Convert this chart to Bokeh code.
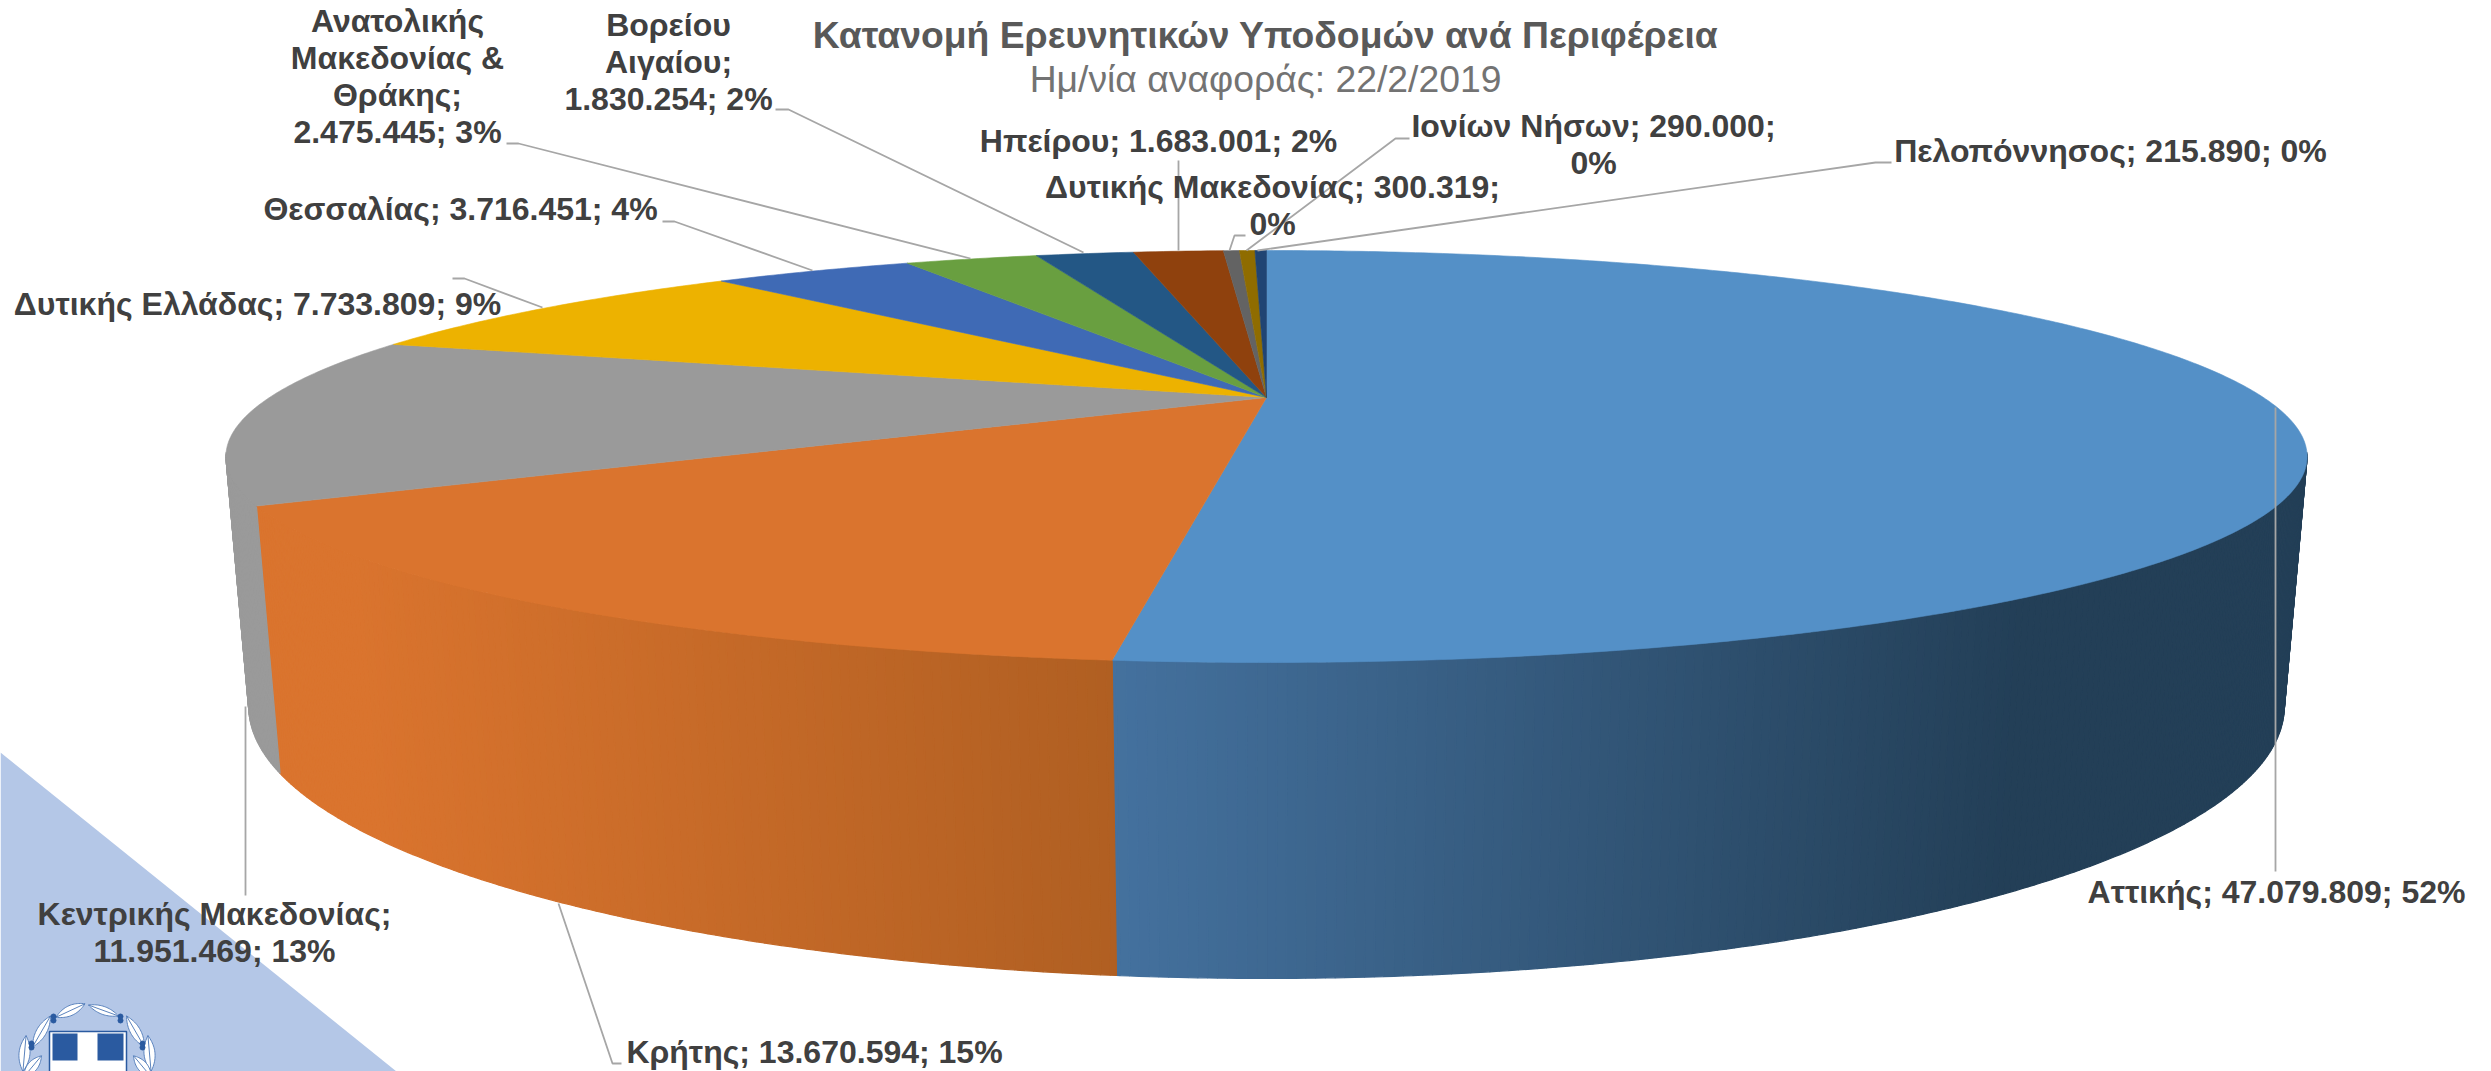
import numpy as np
from bokeh.plotting import figure
from bokeh.models import Range1d, ColumnDataSource
from bokeh.core.properties import value
from bokeh.embed import file_html
from bokeh.resources import INLINE

# ---------- data ----------
categories = ["Αττικής", "Κρήτης", "Κεντρικής Μακεδονίας", "Δυτικής Ελλάδας", "Θεσσαλίας",
              "Ανατολικής Μακεδονίας & Θράκης", "Βορείου Αιγαίου", "Ηπείρου",
              "Δυτικής Μακεδονίας", "Ιονίων Νήσων", "Πελοπόννησος"]
values = [47079809, 13670594, 11951469, 7733809, 3716451, 2475445, 1830254, 1683001, 300319, 290000, 215890]
title_text = "Κατανομή Ερευνητικών Υποδομών ανά Περιφέρεια"
subtitle_text = "Ημ/νία αναφοράς: 22/2/2019"

# ---------- styles / layout ----------
colors = ["#5490c7", "#da742e", "#9a9a9a", "#edb200", "#3f6ab5", "#699f40",
          "#235785", "#8f410d", "#636363", "#8f6c00", "#204473"]
wraps = [None, None, [2, 2], None, None, [1, 2, 1, 2], [1, 1, 2], None, [3, 1], [3, 1], None]
label_cx = [2276, 814, 214, 257, 460, 397, 668, 1158, 1272, 1593, 2110]
label_base = [891, 1051, 913, 303, 208, 20, 24, 140, 186, 125, 150]
LINE_H = 37.2
leaders = [
    [(2275, 407), (2275, 871)],
    [(558, 903), (612, 1063), (621, 1063)],
    [(245, 706), (245, 895)],
    [(542, 307), (464, 278), (452, 278)],
    [(812, 270), (674, 221), (662, 221)],
    [(970, 258), (518, 143), (506, 143)],
    [(1083, 252), (788, 109), (775, 109)],
    [(1178, 250), (1178, 160)],
    [(1229, 250), (1234, 235), (1245, 235)],
    [(1246, 250), (1395, 138), (1409, 138)],
    [(1257, 250), (1875, 162), (1891, 162)],
]

# projection of the pie's disc on to the page (perspective)
CX, R, K = 1266.0, 997.0, 0.2864
A, B_TOP, B_BOT, D_BOT = 75.4, 397.0, 642.6, 1.0206


def project(theta, bottom=False):
    """theta: degrees clockwise from 12 o'clock; r=1 rim."""
    t = np.radians(theta)
    u, v = np.sin(t), -np.cos(t)
    d = (D_BOT if bottom else 1.0) - K * v
    return CX + R * u / d, (A * v + (B_BOT if bottom else B_TOP)) / d


def mix(c0, c1, f):
    f = float(np.clip(f, 0, 1))
    a = [int(c0[i:i + 2], 16) for i in (1, 3, 5)]
    b = [int(c1[i:i + 2], 16) for i in (1, 3, 5)]
    return "#%02x%02x%02x" % tuple(round(x + (y - x) * f) for x, y in zip(a, b))


total = sum(values)
edges = 360.0 * np.concatenate([[0], np.cumsum(values)]) / total

p = figure(width=2491, height=1071, output_backend="svg", toolbar_location=None,
           x_range=Range1d(0, 2491), y_range=Range1d(1071, 0),
           x_axis_type=None, y_axis_type=None, min_border=0,
           margin=(0, 0, 0, 0))
p.outline_line_color = None
p.grid.visible = False
p.background_fill_color = "white"
p.border_fill_color = "white"

# ---------- corner decoration ----------
p.patch([0, 396, 0], [752, 1071, 1071], fill_color="#b4c7e7", line_color=None)
EMB = "#2a5aa0"
p.patch([49, 126, 126, 49], [1031, 1031, 1075, 1075], fill_color="white", line_color=EMB, line_width=1.5)
p.patch([52, 77, 77, 52], [1033, 1033, 1060, 1060], fill_color=EMB, line_color=None)
p.patch([97, 123, 123, 97], [1033, 1033, 1060, 1060], fill_color=EMB, line_color=None)
leaves = [(70, 1010, 32, 10, -25), (103, 1010, 32, 8, 20), (41, 1031, 36, 10, -60), (135, 1031, 36, 10, 60),
          (24, 1053, 36, 11, -85), (149, 1053, 36, 11, 85), (32, 1066, 28, 10, -50), (142, 1066, 28, 10, 50)]
for cx, cy, ln, wd, ang in leaves:
    s = np.linspace(-1, 1, 24)
    lx = np.concatenate([s, s[::-1]]) * ln / 2
    ly = np.concatenate([(1 - s ** 2), -(1 - s[::-1] ** 2)]) * wd / 2
    a = np.radians(ang)
    p.patch(cx + lx * np.cos(a) - ly * np.sin(a), cy + lx * np.sin(a) + ly * np.cos(a),
            fill_color="white", line_color="#5b83bd", line_width=1)
    p.line([cx - ln / 2 * np.cos(a), cx + ln / 2 * np.cos(a)],
           [cy - ln / 2 * np.sin(a), cy + ln / 2 * np.sin(a)], line_color="#5b83bd", line_width=1)
p.scatter([53, 53, 31, 31, 120, 120, 142, 142], [1016, 1020, 1043, 1047, 1016, 1020, 1043, 1047],
          size=5, color=EMB)

# ---------- side wall ----------
SIDE_FROM, SIDE_TO = 105.5, 254.5
STEPS = 360
th = np.linspace(SIDE_FROM, SIDE_TO, STEPS + 1)
# strips must break exactly on the slice boundaries
th = np.unique(np.concatenate([th, edges[(edges > SIDE_FROM) & (edges < SIDE_TO)]]))
xs, ys, cols = [], [], []
for t0, t1 in zip(th[:-1], th[1:]):
    mid = (t0 + t1) / 2
    i = int(np.searchsorted(edges, mid)) - 1
    x0t, y0t = project(t0)
    x1t, y1t = project(t1)
    x0b, y0b = project(t0, True)
    x1b, y1b = project(t1, True)
    xm = (x0b + x1b) / 2
    if i == 0:
        col = mix("#44719e", "#233f57", (1116 - xm) / (1116 - 2000))
    elif i == 1:
        col = mix("#da742e", "#b05f22", (xm - 370) / (1115 - 370))
    else:
        col = colors[i]
    xs.append([x0t, x1t, x1b, x0b])
    ys.append([y0t, y1t, y1b, y0b])
    cols.append(col)
p.patches("x", "y", fill_color="c", line_color="c", line_width=1.2,
          source=ColumnDataSource(dict(x=xs, y=ys, c=cols)))

# ---------- top face ----------
xs, ys = [], []
for t0, t1 in zip(edges[:-1], edges[1:]):
    t = np.linspace(t0, t1, max(4, int((t1 - t0) * 2)))
    ex, ey = project(t)
    xs.append([CX] + list(ex))
    ys.append([B_TOP] + list(ey))
p.patches("x", "y", fill_color="c", line_color="c", line_width=0.6,
          source=ColumnDataSource(dict(x=xs, y=ys, c=colors)))

# ---------- leader lines ----------
p.multi_line([[q[0] for q in l] for l in leaders], [[q[1] for q in l] for l in leaders],
             line_color="#a6a6a6", line_width=1.8)

# ---------- texts ----------
tx, ty, tt = [], [], []
for name, val, wrap, cx, base in zip(categories, values, wraps, label_cx, label_base):
    pct = round(100 * val / total)
    full = f"{name}; {val:,}".replace(",", ".") + f"; {pct}%"
    if wrap is None:
        lines = [full]
    else:
        tok = full.split(" ")
        lines, k = [], 0
        for n in wrap:
            lines.append(" ".join(tok[k:k + n]))
            k += n
    for j, ln in enumerate(lines):
        tx.append(cx)
        ty.append(base + j * LINE_H)
        tt.append(ln)
p.text(tx, ty, text=tt, text_font=value("Liberation Sans"), text_font_style="bold",
       text_font_size=value("32px"), text_color="#404040", text_align="center", text_baseline="alphabetic")
p.text([1265], [34], text=[title_text], text_font=value("Liberation Sans"), text_font_style="bold",
       text_font_size=value("37.3px"), text_color="#595959", text_align="center", text_baseline="alphabetic")
p.text([1265], [78], text=[subtitle_text], text_font=value("Liberation Sans"),
       text_font_size=value("37.3px"), text_color="#737373", text_align="center", text_baseline="alphabetic")

open("out.html", "w").write(file_html(p, INLINE))
